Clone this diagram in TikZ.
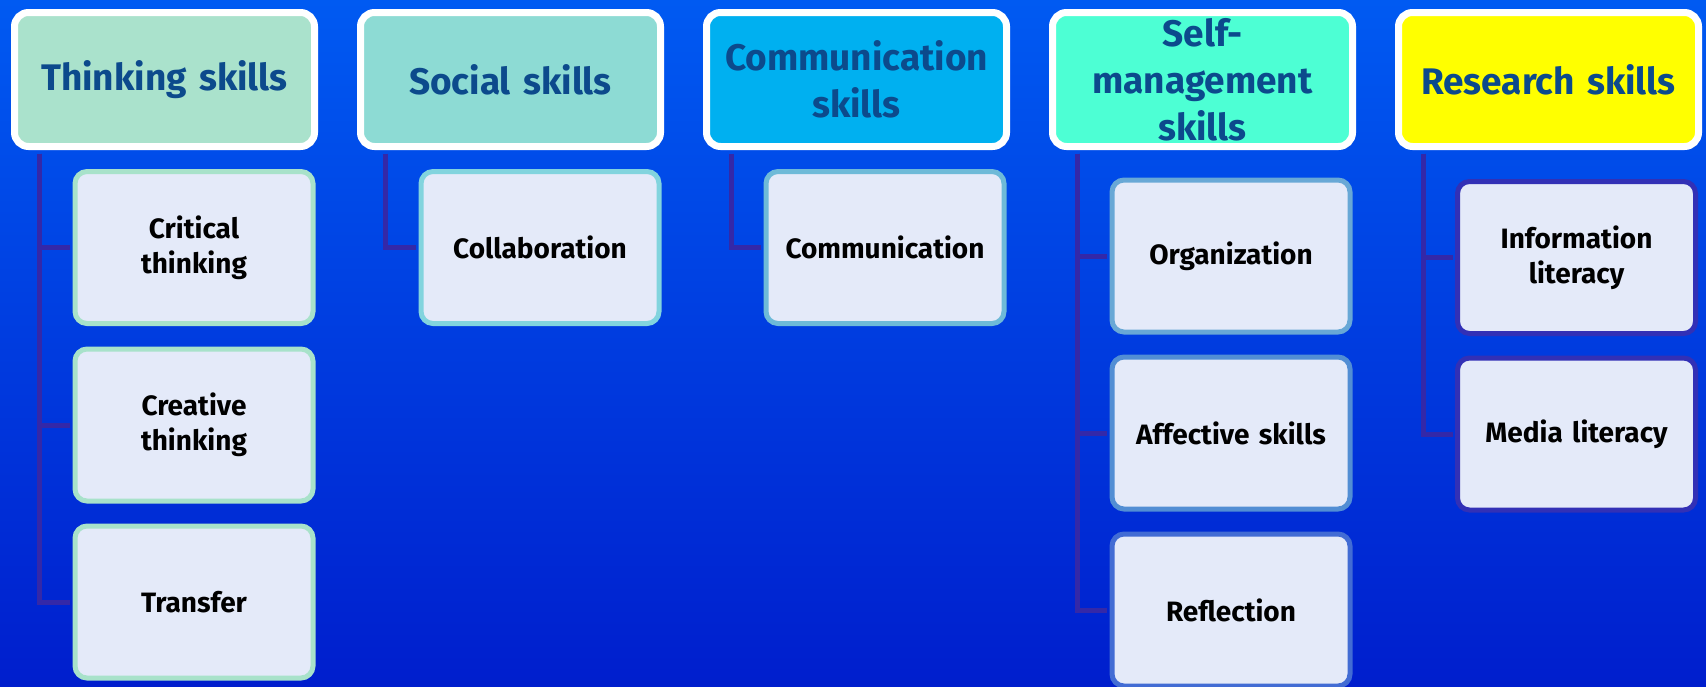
\documentclass[tikz,border=0pt]{standalone}
\usepackage{fontspec}
\setmainfont{Fira Sans}
\usepackage{tikz}
\usetikzlibrary{shadows}

\definecolor{bgtop}{RGB}{0,90,242}
\definecolor{bgbot}{RGB}{0,30,205}
\definecolor{headtext}{RGB}{12,74,140}
\definecolor{itemfill}{RGB}{228,234,249}
\definecolor{linkcol}{RGB}{52,40,168}
\definecolor{thinkfill}{RGB}{170,226,204}
\definecolor{socialfill}{RGB}{141,219,212}
\definecolor{commfill}{RGB}{0,176,240}
\definecolor{selffill}{RGB}{77,255,212}
\definecolor{researchfill}{RGB}{255,255,0}
\definecolor{thinkedge}{RGB}{168,226,202}
\definecolor{socialedge}{RGB}{130,212,222}
\definecolor{commedge}{RGB}{110,186,216}
\definecolor{orgedge}{RGB}{104,168,214}
\definecolor{affedge}{RGB}{82,142,212}
\definecolor{refledge}{RGB}{66,108,212}
\definecolor{researchedge}{RGB}{50,48,182}

\tikzset{
	head/.style={draw=white, line width=7pt, rounded corners=14pt, minimum width=300pt, minimum height=134pt, text width=296pt, align=center, inner sep=0pt, text=headtext, font=\fontsize{37}{47}\selectfont\bfseries, drop shadow={opacity=0.35, shadow xshift=2pt, shadow yshift=-3pt}},
	item/.style={draw=#1, fill=itemfill, line width=5pt, rounded corners=12pt, minimum width=238pt, minimum height=152pt, text width=234pt, align=center, inner sep=0pt, text=black, font=\fontsize{28}{35}\selectfont\bfseries},
	link/.style={draw=linkcol, line width=5pt, shorten <=3.5pt, shorten >=2.5pt}
}

\begin{document}
\begin{tikzpicture}[x=1pt, y=-1pt]
		%%%%% START %%%%%
		
		\shade[top color=bgtop, bottom color=bgbot] (0, 0) rectangle (1706, 686);
		\useasboundingbox (0, 0) rectangle (1706, 686);
		
		% headers
		\node[head, fill=thinkfill] (think) at (164.5, 79.5) {Thinking skills};
		\node[head, fill=socialfill] (social) at (510.5, 79.5) {Social skills};
		\node[head, fill=commfill] (comm) at (856.5, 79.5) {Communication\\skills};
		\node[head, fill=selffill] (self) at (1202.5, 79.5) {Self-\\management\\skills};
		\node[head, fill=researchfill] (research) at (1548.5, 79.5) {Research skills};
		
		% thinking skills
		\node[item=thinkedge] (critical) at (194, 247.5) {Critical\\thinking};
		\node[item=thinkedge] (creative) at (194, 425) {Creative\\thinking};
		\node[item=thinkedge] (transfer) at (194, 602) {Transfer};
		
		% social and communication skills
		\node[item=socialedge] (collab) at (540, 247.5) {Collaboration};
		\node[item=commedge] (commun) at (885, 247.5) {Communication};
		
		% self-management skills
		\node[item=orgedge] (organ) at (1231, 256) {Organization};
		\node[item=affedge] (affect) at (1231, 433) {Affective skills};
		\node[item=refledge] (reflect) at (1231, 610) {Reflection};
		
		% research skills
		\node[item=researchedge] (info) at (1576.5, 257.5) {Information\\literacy};
		\node[item=researchedge] (media) at (1576.5, 434) {Media literacy};
		
		% connectors
		\draw[link] ([xshift=28.5pt]think.south west) |- (critical.west);
		\draw[link] ([xshift=28.5pt]think.south west) |- (creative.west);
		\draw[link] ([xshift=28.5pt]think.south west) |- (transfer.west);
		
		\draw[link] ([xshift=28.5pt]social.south west) |- (collab.west);
		\draw[link] ([xshift=28.5pt]comm.south west) |- (commun.west);
		
		\draw[link] ([xshift=28.5pt]self.south west) |- (organ.west);
		\draw[link] ([xshift=28.5pt]self.south west) |- (affect.west);
		\draw[link] ([xshift=28.5pt]self.south west) |- (reflect.west);
		
		\draw[link] ([xshift=28.5pt]research.south west) |- (info.west);
		\draw[link] ([xshift=28.5pt]research.south west) |- (media.west);
		
		%%%%% END %%%%%
	\end{tikzpicture}
\end{document}
